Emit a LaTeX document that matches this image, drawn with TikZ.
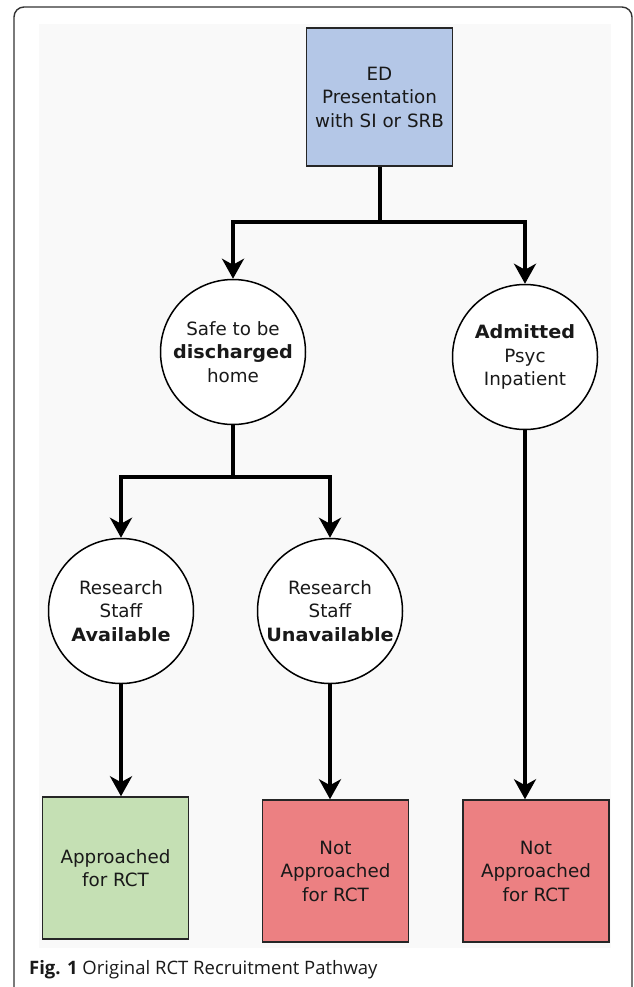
\documentclass[tikz,border=0pt]{standalone}
\usepackage{fontspec}
\setmainfont{DejaVu Sans}
\newfontfamily\capfont{Open Sans}
\newfontfamily\wb[FakeStretch=1.05]{DejaVu Sans Bold}
\usetikzlibrary{arrows.meta}
\definecolor{edblue}{RGB}{180,199,231}
\definecolor{okgreen}{RGB}{197,224,180}
\definecolor{nored}{RGB}{236,128,130}
\definecolor{bgpanel}{RGB}{249,249,249}
\definecolor{ink}{RGB}{25,25,25}
\begin{document}
\begin{tikzpicture}[x=1pt,y=-1pt,
  frame/.style={draw=black!80, line width=1.4pt, rounded corners=10pt},
  boxbase/.style={draw=black!85, line width=1.5pt, minimum width=146pt, inner sep=0pt,
    align=center, text=ink, font=\fontsize{18.3}{23.5}\selectfont},
  topbox/.style={boxbase, fill=edblue, minimum height=138pt},
  yesbox/.style={boxbase, fill=okgreen, minimum height=142pt},
  nobox/.style={boxbase, fill=nored, minimum height=142pt},
  circ/.style={circle, draw=black, line width=1.5pt, fill=white, minimum size=145pt,
    inner sep=0pt, align=center, text=ink, font=\fontsize{18.3}{23.5}\selectfont},
  conn/.style={line width=4pt, draw=black},
  arr/.style={conn, -{Stealth[length=20pt,width=22pt,inset=6pt]}},
]
\useasboundingbox (0,0) rectangle (633,987);
\draw[frame] (14,7) rectangle (632,1005);
\fill[bgpanel] (39,24) rectangle (611,948);

% nodes
\node[topbox] (ed) at (379.5,97) {ED\\Presentation\\with SI or SRB};
\node[circ] (safe) at (233,352) {Safe to be\\{\wb discharged}\\home};
\node[circ] (adm) at (525,357) {{\wb Admitted}\\Psyc\\Inpatient};
\node[circ] (avail) at (121,611) {Research\\Staff\\{\wb Available}};
\node[circ] (unav) at (330,611) {Research\\Staff\\{\wb Unavailable}};
\node[yesbox] (appr) at (115.5,868) {Approached\\for RCT};
\node[nobox] (nap1) at (335.5,871) {Not\\Approached\\for RCT};
\node[nobox] (nap2) at (536,871) {Not\\Approached\\for RCT};

% junctions
\coordinate (j1) at (379.5,222);
\coordinate (j2) at (233,477);

% connectors
\draw[conn] (ed.south) -- (j1);
\draw[arr] (j1) -| (safe.north);
\draw[arr] (j1) -| (adm.north);
\draw[conn] (safe.south) -- (j2);
\draw[arr] (j2) -| (avail.north);
\draw[arr] (j2) -| (unav.north);
\draw[arr] (avail.south) -- (avail.south |- appr.north);
\draw[arr] (unav.south) -- (unav.south |- nap1.north);
\draw[arr] (adm.south) -- (adm.south |- nap2.north);

% caption
\node[anchor=west, inner sep=0pt, text=ink, font=\capfont\fontsize{18.5}{22}\selectfont] (cap) at (29,970)
  {\textbf{Fig. 1} Original RCT Recruitment Pathway};
\end{tikzpicture}
\end{document}
